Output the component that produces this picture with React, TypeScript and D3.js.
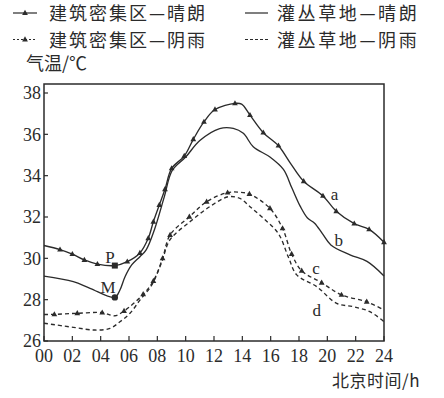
import React from 'react';
import * as d3 from 'd3';

// 建筑密集区—晴朗 (a)
const aHours = [0, 1.13, 2.0, 2.85, 3.77, 5.0, 5.88, 6.77, 7.36, 7.72, 8.14, 8.54, 9.01, 9.9, 10.54, 11.29, 12.07, 13.48, 13.95, 14.54, 15.48, 16.55, 17.4, 18.33, 19.69, 20.63, 21.9, 22.95, 24];
const aTemps = [30.62, 30.42, 30.2, 29.92, 29.72, 29.65, 29.84, 30.26, 30.97, 31.77, 32.58, 33.34, 34.35, 34.95, 35.76, 36.6, 37.2, 37.5, 37.46, 36.93, 36.08, 35.45, 34.6, 33.73, 33.02, 32.28, 31.68, 31.4, 30.78];
const aMarks = [0, 1, 1, 1, 1, 0, 1, 1, 1, 1, 1, 1, 1, 1, 1, 1, 1, 1, 0, 1, 1, 1, 0, 1, 1, 1, 1, 1, 1];

// 灌丛草地—晴朗 (b)
const bHours = [0, 2.07, 3.25, 5.0, 5.36, 5.72, 6.19, 6.77, 7.2, 7.8, 8.5, 9.05, 10.0, 11.0, 12.4, 13.36, 14.07, 14.77, 15.95, 16.9, 17.5, 18.1, 18.6, 19.1, 19.65, 20.25, 21.6, 22.8, 24];
const bTemps = [29.14, 28.87, 28.55, 28.11, 28.47, 29.11, 29.68, 30.08, 30.4, 31.4, 33.0, 34.25, 34.9, 35.7, 36.28, 36.29, 36.05, 35.4, 34.9, 34.3, 33.4, 32.5, 31.95, 31.7, 31.2, 30.65, 30.17, 29.85, 29.15];

// 建筑密集区—阴雨 (c)
const cHours = [0, 0.73, 2.35, 4.11, 5.0, 5.65, 7.0, 7.72, 8.37, 8.9, 10.26, 11.48, 12.96, 13.8, 14.5, 15.95, 16.84, 17.48, 18.19, 19.6, 21.0, 22.78, 24];
const cTemps = [27.28, 27.29, 27.34, 27.37, 27.22, 27.45, 28.26, 28.9, 30.0, 31.13, 32.01, 32.74, 33.18, 33.2, 33.11, 32.42, 31.45, 30.21, 29.4, 28.82, 28.23, 27.9, 27.5];
const cMarks = [0, 1, 1, 1, 0, 1, 1, 1, 1, 1, 1, 1, 1, 0, 1, 1, 1, 1, 1, 1, 1, 1, 0];

// 灌丛草地—阴雨 (d)
const dHours = [0, 2.07, 3.6, 4.66, 5.36, 6.07, 6.77, 7.6, 8.3, 8.9, 10.3, 11.7, 13.0, 13.83, 14.54, 15.48, 16.54, 17.24, 17.84, 19.25, 20.66, 21.83, 23.0, 24];
const dTemps = [26.86, 26.66, 26.53, 26.61, 26.93, 27.34, 27.98, 28.7, 29.8, 30.9, 31.77, 32.5, 32.98, 32.9, 32.5, 31.94, 31.2, 30.08, 29.2, 28.63, 27.82, 27.66, 27.42, 26.93];

const xTicks = [0, 2, 4, 6, 8, 10, 12, 14, 16, 18, 20, 22, 24];
const yTicks = [26, 28, 30, 32, 34, 36, 38];

const pointP = { h: 5.0, t: 29.65, label: 'P' };
const pointM = { h: 5.0, t: 28.11, label: 'M' };

const curveLabels = [
  { h: 20.5, t: 32.82, text: 'a' },
  { h: 20.8, t: 30.6, text: 'b' },
  { h: 19.2, t: 29.25, text: 'c' },
  { h: 19.25, t: 27.2, text: 'd' },
];

type Pt = { h: number; t: number; m?: number };

const zip = (hs: number[], ts: number[], ms?: number[]): Pt[] =>
  hs.map((h, i) => ({ h, t: ts[i], m: ms ? ms[i] : 0 }));

const INK = '#2b2b2b';
const SERIF = '"Liberation Serif", "DejaVu Serif", serif';
const CJK = '"Noto Sans CJK SC", "Noto Sans", sans-serif';

const App: React.FC = () => {
  const x = d3.scaleLinear().domain([0, 24]).range([44, 384]);
  const y = d3.scaleLinear().domain([26, 38]).range([341, 93]);
  const frameTop = 84;

  const line = d3
    .line<Pt>()
    .x((d) => x(d.h))
    .y((d) => y(d.t))
    .curve(d3.curveCatmullRom.alpha(0.5));

  const series = [
    { pts: zip(aHours, aTemps, aMarks), dash: undefined },
    { pts: zip(bHours, bTemps), dash: undefined },
    { pts: zip(cHours, cTemps, cMarks), dash: '4,3' },
    { pts: zip(dHours, dTemps), dash: '4,3' },
  ];

  const tri = (cx: number, cy: number, s = 3.2) =>
    `M${cx},${cy - s}L${cx + s * 0.9},${cy + s * 0.6}L${cx - s * 0.9},${cy + s * 0.6}Z`;

  return (
    <svg
      width={444}
      height={398}
      style={{ position: 'absolute', left: 0, top: 0, background: '#fff' }}
    >
      {/* legend */}
      <g fill={INK}>
        <line x1={13} x2={37} y1={13} y2={13} stroke={INK} strokeWidth={1.2} />
        <path d={tri(25, 13)} />
        <line x1={13} x2={37} y1={39.5} y2={39.5} stroke={INK} strokeWidth={1.2} strokeDasharray="2,2" />
        <path d={tri(25, 39.5)} />
        <line x1={245} x2={268} y1={13} y2={13} stroke={INK} strokeWidth={1.2} />
        <line x1={245} x2={268} y1={39.5} y2={39.5} stroke={INK} strokeWidth={1.2} strokeDasharray="3,2" />
        <text x={49} y={20} fontFamily={CJK} fontSize={18} letterSpacing={2}>建筑密集区—晴朗</text>
        <text x={49} y={46.5} fontFamily={CJK} fontSize={18} letterSpacing={2}>建筑密集区—阴雨</text>
        <text x={277} y={20} fontFamily={CJK} fontSize={18} letterSpacing={2.6}>灌丛草地—晴朗</text>
        <text x={277} y={46.5} fontFamily={CJK} fontSize={18} letterSpacing={2.6}>灌丛草地—阴雨</text>
        <text x={26} y={70} fontFamily={CJK} fontSize={18}>气温/℃</text>
        <text x={420} y={387} textAnchor="end" fontFamily={CJK} fontSize={17} letterSpacing={0.5}>北京时间/h</text>
      </g>

      {/* frame */}
      <rect
        x={x(0)}
        y={frameTop}
        width={x(24) - x(0)}
        height={y(26) - frameTop}
        fill="none"
        stroke={INK}
        strokeWidth={1.5}
      />

      {/* ticks */}
      {yTicks.map((v) => (
        <g key={'y' + v}>
          <line x1={x(0)} x2={x(0) + 4} y1={y(v)} y2={y(v)} stroke={INK} strokeWidth={1.2} />
          <text x={41} y={y(v)} dy="0.35em" textAnchor="end" fontFamily={SERIF} fontSize={18} fill={INK}>
            {v}
          </text>
        </g>
      ))}
      {xTicks.map((v) => (
        <g key={'x' + v}>
          <line x1={x(v)} x2={x(v)} y1={y(26)} y2={y(26) - 5} stroke={INK} strokeWidth={1.2} />
          <text x={x(v)} y={362} textAnchor="middle" fontFamily={SERIF} fontSize={18} fill={INK}>
            {String(v).padStart(2, '0')}
          </text>
        </g>
      ))}

      {/* curves */}
      {series.map((s, i) => (
        <g key={'s' + i}>
          <path d={line(s.pts) || ''} fill="none" stroke={INK} strokeWidth={1.35} strokeDasharray={s.dash} />
          {s.pts
            .filter((p) => p.m)
            .map((p, j) => (
              <path key={j} d={tri(x(p.h), y(p.t))} fill={INK} />
            ))}
        </g>
      ))}

      {/* P and M */}
      <rect x={x(pointP.h) - 3} y={y(pointP.t) - 3} width={6} height={6} fill={INK} />
      <circle cx={x(pointM.h)} cy={y(pointM.t)} r={3.2} fill={INK} />
      <text x={110} y={263} textAnchor="middle" fontFamily={SERIF} fontSize={17} fill={INK}>
        {pointP.label}
      </text>
      <text x={108} y={293} textAnchor="middle" fontFamily={SERIF} fontSize={17} fill={INK}>
        {pointM.label}
      </text>

      {curveLabels.map((l) => (
        <text key={l.text} x={x(l.h)} y={y(l.t)} textAnchor="middle" fontFamily={SERIF} fontSize={17} fill={INK}>
          {l.text}
        </text>
      ))}
    </svg>
  );
};

export default App;
